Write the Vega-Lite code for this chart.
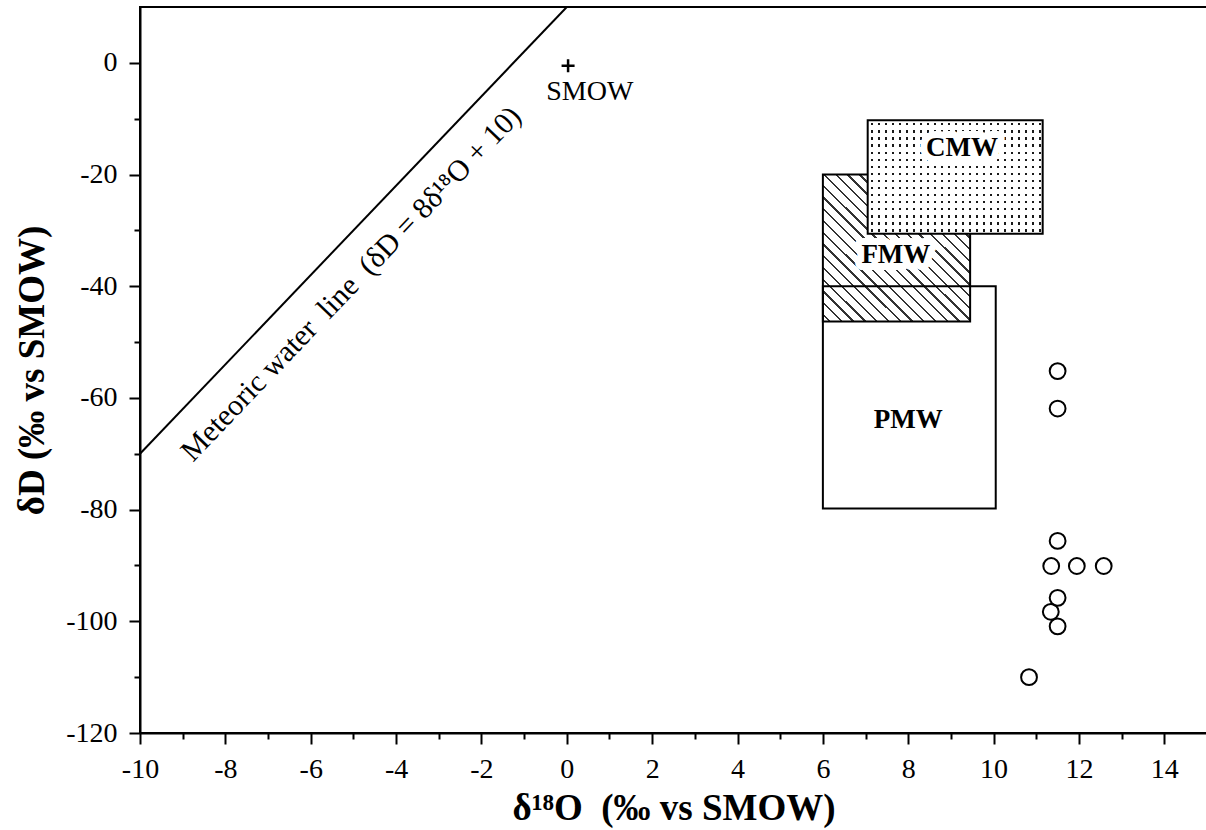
{
  "$schema": "https://vega.github.io/schema/vega-lite/v6.json",
  "width": 1067,
  "height": 726,
  "autosize": {"type": "none"},
  "padding": {"left": 140, "top": 7, "right": 0, "bottom": 97},
  "background": "white",
  "config": {
    "view": {"stroke": "black", "strokeWidth": 2},
    "axis": {
      "domainColor": "black", "domainWidth": 2, "tickColor": "black", "tickWidth": 2,
      "labelColor": "black", "titleColor": "black", "labelFont": "Liberation Serif",
      "titleFont": "Liberation Serif", "grid": false, "labelFontSize": 28, "titleFontSize": 37,
      "titleFontWeight": "bold", "labelFlush": false
    }
  },
  "datasets": {
    "boxes": [
      {"name": "CMW", "x1": 7.05, "x2": 11.15, "y1": -10.3, "y2": -30.6},
      {"name": "FMW", "x1": 6.0, "x2": 9.45, "y1": -20, "y2": -46.3},
      {"name": "PMW", "x1": 6.0, "x2": 10.05, "y1": -40, "y2": -79.8}
    ],
    "labels": [
      {"label": "CMW", "x": 9.26, "y": -15.2},
      {"label": "FMW", "x": 7.71, "y": -34.4},
      {"label": "PMW", "x": 8.0, "y": -64}
    ],
    "mwl": [{"x": -10, "y": -70}, {"x": 0, "y": 10}],
    "samples": [
      {"x": 11.5, "y": -55.2}, {"x": 11.5, "y": -61.9}, {"x": 11.5, "y": -85.6},
      {"x": 11.35, "y": -90.1}, {"x": 11.95, "y": -90.1}, {"x": 12.58, "y": -90.1},
      {"x": 11.5, "y": -95.8}, {"x": 11.34, "y": -98.3}, {"x": 11.5, "y": -100.9},
      {"x": 10.83, "y": -110}
    ]
  },
  "layer": [
    {
      "layer": [
        {
          "data": {"name": "mwl"},
          "mark": {"type": "line", "color": "black", "strokeWidth": 2, "clip": true},
          "encoding": {
            "x": {"field": "x", "type": "quantitative",
              "scale": {"domain": [-10, 15], "nice": false, "zero": false},
              "axis": {"title": "δ¹⁸O\u00a0 (‰ vs SMOW)", "values": [-10, -8, -6, -4, -2, 0, 2, 4, 6, 8, 10, 12, 14],
                "tickSize": 11, "labelPadding": 11, "titlePadding": 7, "labelFontSize": 28, "labelFlush": false,
                "labelExpr": "replace(datum.label, '−', '-')"}},
            "y": {"field": "y", "type": "quantitative",
              "scale": {"domain": [-120, 10], "nice": false, "zero": false},
              "axis": {"title": "δD (‰ vs SMOW)", "values": [-120, -100, -80, -60, -40, -20, 0],
                "tickSize": 11, "labelPadding": 12, "titlePadding": 14, "labelFontSize": 28, "labelFlush": false,
                "labelExpr": "replace(datum.label, '−', '-')"}}
          }
        },
        {
          "data": {"name": "boxes"},
          "transform": [{"filter": "datum.name === 'FMW'"}],
          "mark": {"type": "rect", "stroke": "black", "strokeWidth": 2,
            "fill": {"gradient": "linear", "x1": 0, "y1": 1, "x2": 1, "y2": 0, "stops": [
              {"offset": 0, "color": "#fff"},
              {"offset": 0.02, "color": "#fff"}, {"offset": 0.02, "color": "#333"}, {"offset": 0.028, "color": "#333"}, {"offset": 0.028, "color": "#fff"},
              {"offset": 0.06, "color": "#fff"}, {"offset": 0.06, "color": "#333"}, {"offset": 0.068, "color": "#333"}, {"offset": 0.068, "color": "#fff"},
              {"offset": 0.10, "color": "#fff"}, {"offset": 0.10, "color": "#333"}, {"offset": 0.108, "color": "#333"}, {"offset": 0.108, "color": "#fff"},
              {"offset": 0.14, "color": "#fff"}, {"offset": 0.14, "color": "#333"}, {"offset": 0.148, "color": "#333"}, {"offset": 0.148, "color": "#fff"},
              {"offset": 0.18, "color": "#fff"}, {"offset": 0.18, "color": "#333"}, {"offset": 0.188, "color": "#333"}, {"offset": 0.188, "color": "#fff"},
              {"offset": 0.22, "color": "#fff"}, {"offset": 0.22, "color": "#333"}, {"offset": 0.228, "color": "#333"}, {"offset": 0.228, "color": "#fff"},
              {"offset": 0.26, "color": "#fff"}, {"offset": 0.26, "color": "#333"}, {"offset": 0.268, "color": "#333"}, {"offset": 0.268, "color": "#fff"},
              {"offset": 0.30, "color": "#fff"}, {"offset": 0.30, "color": "#333"}, {"offset": 0.308, "color": "#333"}, {"offset": 0.308, "color": "#fff"},
              {"offset": 0.34, "color": "#fff"}, {"offset": 0.34, "color": "#333"}, {"offset": 0.348, "color": "#333"}, {"offset": 0.348, "color": "#fff"},
              {"offset": 0.38, "color": "#fff"}, {"offset": 0.38, "color": "#333"}, {"offset": 0.388, "color": "#333"}, {"offset": 0.388, "color": "#fff"},
              {"offset": 0.42, "color": "#fff"}, {"offset": 0.42, "color": "#333"}, {"offset": 0.428, "color": "#333"}, {"offset": 0.428, "color": "#fff"},
              {"offset": 0.46, "color": "#fff"}, {"offset": 0.46, "color": "#333"}, {"offset": 0.468, "color": "#333"}, {"offset": 0.468, "color": "#fff"},
              {"offset": 0.50, "color": "#fff"}, {"offset": 0.50, "color": "#333"}, {"offset": 0.508, "color": "#333"}, {"offset": 0.508, "color": "#fff"},
              {"offset": 0.54, "color": "#fff"}, {"offset": 0.54, "color": "#333"}, {"offset": 0.548, "color": "#333"}, {"offset": 0.548, "color": "#fff"},
              {"offset": 0.58, "color": "#fff"}, {"offset": 0.58, "color": "#333"}, {"offset": 0.588, "color": "#333"}, {"offset": 0.588, "color": "#fff"},
              {"offset": 0.62, "color": "#fff"}, {"offset": 0.62, "color": "#333"}, {"offset": 0.628, "color": "#333"}, {"offset": 0.628, "color": "#fff"},
              {"offset": 0.66, "color": "#fff"}, {"offset": 0.66, "color": "#333"}, {"offset": 0.668, "color": "#333"}, {"offset": 0.668, "color": "#fff"},
              {"offset": 0.70, "color": "#fff"}, {"offset": 0.70, "color": "#333"}, {"offset": 0.708, "color": "#333"}, {"offset": 0.708, "color": "#fff"},
              {"offset": 0.74, "color": "#fff"}, {"offset": 0.74, "color": "#333"}, {"offset": 0.748, "color": "#333"}, {"offset": 0.748, "color": "#fff"},
              {"offset": 0.78, "color": "#fff"}, {"offset": 0.78, "color": "#333"}, {"offset": 0.788, "color": "#333"}, {"offset": 0.788, "color": "#fff"},
              {"offset": 0.82, "color": "#fff"}, {"offset": 0.82, "color": "#333"}, {"offset": 0.828, "color": "#333"}, {"offset": 0.828, "color": "#fff"},
              {"offset": 0.86, "color": "#fff"}, {"offset": 0.86, "color": "#333"}, {"offset": 0.868, "color": "#333"}, {"offset": 0.868, "color": "#fff"},
              {"offset": 0.90, "color": "#fff"}, {"offset": 0.90, "color": "#333"}, {"offset": 0.908, "color": "#333"}, {"offset": 0.908, "color": "#fff"},
              {"offset": 0.94, "color": "#fff"}, {"offset": 0.94, "color": "#333"}, {"offset": 0.948, "color": "#333"}, {"offset": 0.948, "color": "#fff"},
              {"offset": 0.98, "color": "#fff"}, {"offset": 0.98, "color": "#333"}, {"offset": 0.988, "color": "#333"}, {"offset": 0.988, "color": "#fff"},
              {"offset": 1, "color": "#fff"}
            ]}},
          "encoding": {
            "x": {"field": "x1", "type": "quantitative", "title": "δ¹⁸O\u00a0 (‰ vs SMOW)"},
            "x2": {"field": "x2"},
            "y": {"field": "y1", "type": "quantitative", "title": "δD (‰ vs SMOW)"},
            "y2": {"field": "y2"}
          }
        },
        {
          "data": {"name": "boxes"},
          "transform": [{"filter": "datum.name === 'CMW'"}],
          "mark": {"type": "rect", "fill": "#1a1a1a", "strokeWidth": 0},
          "encoding": {
            "x": {"field": "x1", "type": "quantitative", "title": "δ¹⁸O\u00a0 (‰ vs SMOW)"},
            "x2": {"field": "x2"},
            "y": {"field": "y1", "type": "quantitative", "title": "δD (‰ vs SMOW)"},
            "y2": {"field": "y2"}
          }
        },
        {
          "data": {"name": "boxes"},
          "transform": [{"filter": "datum.name === 'CMW'"}],
          "mark": {"type": "rect", "strokeWidth": 0,
            "fill": {"gradient": "linear", "x1": 0, "y1": 0, "x2": 0, "y2": 1, "stops": [
              {"offset": 0, "color": "#fff"},
              {"offset": 0.025, "color": "#fff"}, {"offset": 0.025, "color": "rgba(255,255,255,0)"}, {"offset": 0.045, "color": "rgba(255,255,255,0)"}, {"offset": 0.045, "color": "#fff"},
              {"offset": 0.0875, "color": "#fff"}, {"offset": 0.0875, "color": "rgba(255,255,255,0)"}, {"offset": 0.1075, "color": "rgba(255,255,255,0)"}, {"offset": 0.1075, "color": "#fff"},
              {"offset": 0.15, "color": "#fff"}, {"offset": 0.15, "color": "rgba(255,255,255,0)"}, {"offset": 0.17, "color": "rgba(255,255,255,0)"}, {"offset": 0.17, "color": "#fff"},
              {"offset": 0.2125, "color": "#fff"}, {"offset": 0.2125, "color": "rgba(255,255,255,0)"}, {"offset": 0.2325, "color": "rgba(255,255,255,0)"}, {"offset": 0.2325, "color": "#fff"},
              {"offset": 0.275, "color": "#fff"}, {"offset": 0.275, "color": "rgba(255,255,255,0)"}, {"offset": 0.295, "color": "rgba(255,255,255,0)"}, {"offset": 0.295, "color": "#fff"},
              {"offset": 0.3375, "color": "#fff"}, {"offset": 0.3375, "color": "rgba(255,255,255,0)"}, {"offset": 0.3575, "color": "rgba(255,255,255,0)"}, {"offset": 0.3575, "color": "#fff"},
              {"offset": 0.4, "color": "#fff"}, {"offset": 0.4, "color": "rgba(255,255,255,0)"}, {"offset": 0.42, "color": "rgba(255,255,255,0)"}, {"offset": 0.42, "color": "#fff"},
              {"offset": 0.4625, "color": "#fff"}, {"offset": 0.4625, "color": "rgba(255,255,255,0)"}, {"offset": 0.4825, "color": "rgba(255,255,255,0)"}, {"offset": 0.4825, "color": "#fff"},
              {"offset": 0.525, "color": "#fff"}, {"offset": 0.525, "color": "rgba(255,255,255,0)"}, {"offset": 0.545, "color": "rgba(255,255,255,0)"}, {"offset": 0.545, "color": "#fff"},
              {"offset": 0.5875, "color": "#fff"}, {"offset": 0.5875, "color": "rgba(255,255,255,0)"}, {"offset": 0.6075, "color": "rgba(255,255,255,0)"}, {"offset": 0.6075, "color": "#fff"},
              {"offset": 0.65, "color": "#fff"}, {"offset": 0.65, "color": "rgba(255,255,255,0)"}, {"offset": 0.67, "color": "rgba(255,255,255,0)"}, {"offset": 0.67, "color": "#fff"},
              {"offset": 0.7125, "color": "#fff"}, {"offset": 0.7125, "color": "rgba(255,255,255,0)"}, {"offset": 0.7325, "color": "rgba(255,255,255,0)"}, {"offset": 0.7325, "color": "#fff"},
              {"offset": 0.775, "color": "#fff"}, {"offset": 0.775, "color": "rgba(255,255,255,0)"}, {"offset": 0.795, "color": "rgba(255,255,255,0)"}, {"offset": 0.795, "color": "#fff"},
              {"offset": 0.8375, "color": "#fff"}, {"offset": 0.8375, "color": "rgba(255,255,255,0)"}, {"offset": 0.8575, "color": "rgba(255,255,255,0)"}, {"offset": 0.8575, "color": "#fff"},
              {"offset": 0.9, "color": "#fff"}, {"offset": 0.9, "color": "rgba(255,255,255,0)"}, {"offset": 0.92, "color": "rgba(255,255,255,0)"}, {"offset": 0.92, "color": "#fff"},
              {"offset": 0.9625, "color": "#fff"}, {"offset": 0.9625, "color": "rgba(255,255,255,0)"}, {"offset": 0.9825, "color": "rgba(255,255,255,0)"}, {"offset": 0.9825, "color": "#fff"},
              {"offset": 1, "color": "#fff"}
            ]}},
          "encoding": {
            "x": {"field": "x1", "type": "quantitative", "title": "δ¹⁸O\u00a0 (‰ vs SMOW)"},
            "x2": {"field": "x2"},
            "y": {"field": "y1", "type": "quantitative", "title": "δD (‰ vs SMOW)"},
            "y2": {"field": "y2"}
          }
        },
        {
          "data": {"name": "boxes"},
          "transform": [{"filter": "datum.name === 'CMW'"}],
          "mark": {"type": "rect", "strokeWidth": 0,
            "fill": {"gradient": "linear", "x1": 0, "y1": 0, "x2": 1, "y2": 0, "stops": [
              {"offset": 0, "color": "#fff"},
              {"offset": 0.02, "color": "#fff"}, {"offset": 0.02, "color": "rgba(255,255,255,0)"}, {"offset": 0.033, "color": "rgba(255,255,255,0)"}, {"offset": 0.033, "color": "#fff"},
              {"offset": 0.06, "color": "#fff"}, {"offset": 0.06, "color": "rgba(255,255,255,0)"}, {"offset": 0.073, "color": "rgba(255,255,255,0)"}, {"offset": 0.073, "color": "#fff"},
              {"offset": 0.10, "color": "#fff"}, {"offset": 0.10, "color": "rgba(255,255,255,0)"}, {"offset": 0.113, "color": "rgba(255,255,255,0)"}, {"offset": 0.113, "color": "#fff"},
              {"offset": 0.14, "color": "#fff"}, {"offset": 0.14, "color": "rgba(255,255,255,0)"}, {"offset": 0.153, "color": "rgba(255,255,255,0)"}, {"offset": 0.153, "color": "#fff"},
              {"offset": 0.18, "color": "#fff"}, {"offset": 0.18, "color": "rgba(255,255,255,0)"}, {"offset": 0.193, "color": "rgba(255,255,255,0)"}, {"offset": 0.193, "color": "#fff"},
              {"offset": 0.22, "color": "#fff"}, {"offset": 0.22, "color": "rgba(255,255,255,0)"}, {"offset": 0.233, "color": "rgba(255,255,255,0)"}, {"offset": 0.233, "color": "#fff"},
              {"offset": 0.26, "color": "#fff"}, {"offset": 0.26, "color": "rgba(255,255,255,0)"}, {"offset": 0.273, "color": "rgba(255,255,255,0)"}, {"offset": 0.273, "color": "#fff"},
              {"offset": 0.30, "color": "#fff"}, {"offset": 0.30, "color": "rgba(255,255,255,0)"}, {"offset": 0.313, "color": "rgba(255,255,255,0)"}, {"offset": 0.313, "color": "#fff"},
              {"offset": 0.34, "color": "#fff"}, {"offset": 0.34, "color": "rgba(255,255,255,0)"}, {"offset": 0.353, "color": "rgba(255,255,255,0)"}, {"offset": 0.353, "color": "#fff"},
              {"offset": 0.38, "color": "#fff"}, {"offset": 0.38, "color": "rgba(255,255,255,0)"}, {"offset": 0.393, "color": "rgba(255,255,255,0)"}, {"offset": 0.393, "color": "#fff"},
              {"offset": 0.42, "color": "#fff"}, {"offset": 0.42, "color": "rgba(255,255,255,0)"}, {"offset": 0.433, "color": "rgba(255,255,255,0)"}, {"offset": 0.433, "color": "#fff"},
              {"offset": 0.46, "color": "#fff"}, {"offset": 0.46, "color": "rgba(255,255,255,0)"}, {"offset": 0.473, "color": "rgba(255,255,255,0)"}, {"offset": 0.473, "color": "#fff"},
              {"offset": 0.50, "color": "#fff"}, {"offset": 0.50, "color": "rgba(255,255,255,0)"}, {"offset": 0.513, "color": "rgba(255,255,255,0)"}, {"offset": 0.513, "color": "#fff"},
              {"offset": 0.54, "color": "#fff"}, {"offset": 0.54, "color": "rgba(255,255,255,0)"}, {"offset": 0.553, "color": "rgba(255,255,255,0)"}, {"offset": 0.553, "color": "#fff"},
              {"offset": 0.58, "color": "#fff"}, {"offset": 0.58, "color": "rgba(255,255,255,0)"}, {"offset": 0.593, "color": "rgba(255,255,255,0)"}, {"offset": 0.593, "color": "#fff"},
              {"offset": 0.62, "color": "#fff"}, {"offset": 0.62, "color": "rgba(255,255,255,0)"}, {"offset": 0.633, "color": "rgba(255,255,255,0)"}, {"offset": 0.633, "color": "#fff"},
              {"offset": 0.66, "color": "#fff"}, {"offset": 0.66, "color": "rgba(255,255,255,0)"}, {"offset": 0.673, "color": "rgba(255,255,255,0)"}, {"offset": 0.673, "color": "#fff"},
              {"offset": 0.70, "color": "#fff"}, {"offset": 0.70, "color": "rgba(255,255,255,0)"}, {"offset": 0.713, "color": "rgba(255,255,255,0)"}, {"offset": 0.713, "color": "#fff"},
              {"offset": 0.74, "color": "#fff"}, {"offset": 0.74, "color": "rgba(255,255,255,0)"}, {"offset": 0.753, "color": "rgba(255,255,255,0)"}, {"offset": 0.753, "color": "#fff"},
              {"offset": 0.78, "color": "#fff"}, {"offset": 0.78, "color": "rgba(255,255,255,0)"}, {"offset": 0.793, "color": "rgba(255,255,255,0)"}, {"offset": 0.793, "color": "#fff"},
              {"offset": 0.82, "color": "#fff"}, {"offset": 0.82, "color": "rgba(255,255,255,0)"}, {"offset": 0.833, "color": "rgba(255,255,255,0)"}, {"offset": 0.833, "color": "#fff"},
              {"offset": 0.86, "color": "#fff"}, {"offset": 0.86, "color": "rgba(255,255,255,0)"}, {"offset": 0.873, "color": "rgba(255,255,255,0)"}, {"offset": 0.873, "color": "#fff"},
              {"offset": 0.90, "color": "#fff"}, {"offset": 0.90, "color": "rgba(255,255,255,0)"}, {"offset": 0.913, "color": "rgba(255,255,255,0)"}, {"offset": 0.913, "color": "#fff"},
              {"offset": 0.94, "color": "#fff"}, {"offset": 0.94, "color": "rgba(255,255,255,0)"}, {"offset": 0.953, "color": "rgba(255,255,255,0)"}, {"offset": 0.953, "color": "#fff"},
              {"offset": 0.98, "color": "#fff"}, {"offset": 0.98, "color": "rgba(255,255,255,0)"}, {"offset": 0.993, "color": "rgba(255,255,255,0)"}, {"offset": 0.993, "color": "#fff"},
              {"offset": 1, "color": "#fff"}
            ]}},
          "encoding": {
            "x": {"field": "x1", "type": "quantitative", "title": "δ¹⁸O\u00a0 (‰ vs SMOW)"},
            "x2": {"field": "x2"},
            "y": {"field": "y1", "type": "quantitative", "title": "δD (‰ vs SMOW)"},
            "y2": {"field": "y2"}
          }
        },
        {
          "data": {"name": "boxes"},
          "transform": [{"filter": "datum.name !== 'FMW'"}],
          "mark": {"type": "rect", "fillOpacity": 0, "stroke": "black", "strokeWidth": 2},
          "encoding": {
            "x": {"field": "x1", "type": "quantitative", "title": "δ¹⁸O\u00a0 (‰ vs SMOW)"},
            "x2": {"field": "x2"},
            "y": {"field": "y1", "type": "quantitative", "title": "δD (‰ vs SMOW)"},
            "y2": {"field": "y2"}
          }
        },
        {
          "data": {"name": "labels"},
          "transform": [{"filter": "datum.label !== 'PMW'"}],
          "mark": {"type": "text", "font": "Liberation Serif", "fontWeight": "bold", "fontSize": 27,
            "fill": "white", "stroke": "white", "strokeWidth": 14, "strokeJoin": "round",
            "align": "center", "baseline": "middle"},
          "encoding": {
            "x": {"field": "x", "type": "quantitative", "title": "δ¹⁸O\u00a0 (‰ vs SMOW)"},
            "y": {"field": "y", "type": "quantitative", "title": "δD (‰ vs SMOW)"},
            "text": {"field": "label"}
          }
        },
        {
          "data": {"name": "labels"},
          "mark": {"type": "text", "font": "Liberation Serif", "fontWeight": "bold", "fontSize": 27,
            "color": "black", "align": "center", "baseline": "middle"},
          "encoding": {
            "x": {"field": "x", "type": "quantitative", "title": "δ¹⁸O\u00a0 (‰ vs SMOW)"},
            "y": {"field": "y", "type": "quantitative", "title": "δD (‰ vs SMOW)"},
            "text": {"field": "label"}
          }
        },
        {
          "data": {"values": [{"x": -5.05, "y": -39.6, "label": "Meteoric water\u00a0 line\u00a0 (δD = 8δ¹⁸O + 10)"}]},
          "mark": {"type": "text", "font": "Liberation Serif", "fontSize": 30, "angle": -46.3,
            "color": "black", "align": "center", "baseline": "middle"},
          "encoding": {
            "x": {"field": "x", "type": "quantitative", "title": "δ¹⁸O\u00a0 (‰ vs SMOW)"},
            "y": {"field": "y", "type": "quantitative", "title": "δD (‰ vs SMOW)"},
            "text": {"field": "label"}
          }
        },
        {
          "data": {"values": [{"x": 0.03, "y": -0.5}]},
          "mark": {"type": "point", "shape": "M-1,0L1,0M0,-1L0,1", "size": 169, "stroke": "black",
            "strokeWidth": 2.5, "filled": false, "opacity": 1},
          "encoding": {
            "x": {"field": "x", "type": "quantitative", "title": "δ¹⁸O\u00a0 (‰ vs SMOW)"},
            "y": {"field": "y", "type": "quantitative", "title": "δD (‰ vs SMOW)"}
          }
        },
        {
          "data": {"values": [{"x": 0.54, "y": -5.3, "label": "SMOW"}]},
          "mark": {"type": "text", "font": "Liberation Serif", "fontSize": 28,
            "color": "black", "align": "center", "baseline": "middle"},
          "encoding": {
            "x": {"field": "x", "type": "quantitative", "title": "δ¹⁸O\u00a0 (‰ vs SMOW)"},
            "y": {"field": "y", "type": "quantitative", "title": "δD (‰ vs SMOW)"},
            "text": {"field": "label"}
          }
        }
      ]
    },
    {
      "data": {"name": "samples"},
      "mark": {"type": "point", "shape": "circle", "filled": false, "stroke": "black",
        "strokeWidth": 2, "size": 250, "opacity": 1},
      "encoding": {
        "x": {"field": "x", "type": "quantitative",
          "scale": {"domain": [-10, 15], "nice": false, "zero": false},
          "axis": {"orient": "bottom", "values": [-9, -7, -5, -3, -1, 1, 3, 5, 7, 9, 11, 13],
            "tickSize": 6, "labels": false, "domain": false, "title": null}},
        "y": {"field": "y", "type": "quantitative",
          "scale": {"domain": [-120, 10], "nice": false, "zero": false},
          "axis": {"orient": "left", "values": [-110, -90, -70, -50, -30, -10],
            "tickSize": 6, "labels": false, "domain": false, "title": null}}
      }
    }
  ],
  "resolve": {"axis": {"x": "independent", "y": "independent"}}
}
